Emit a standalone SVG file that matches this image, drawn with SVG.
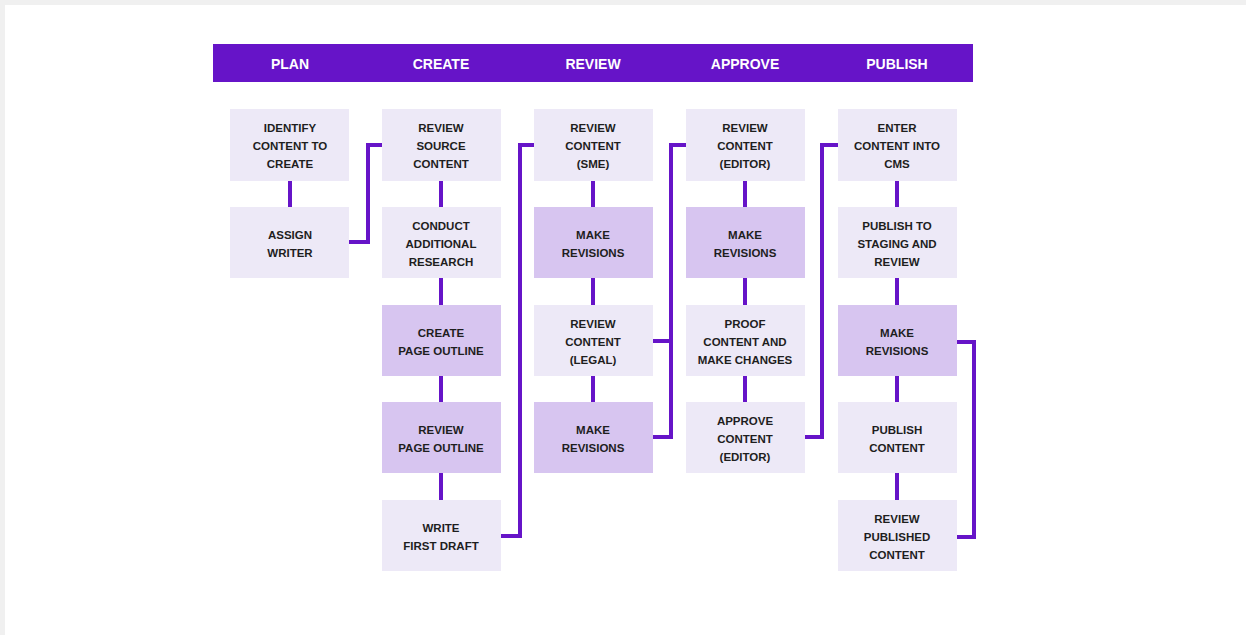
<svg xmlns="http://www.w3.org/2000/svg" width="1246" height="635" viewBox="0 0 1246 635">
<style>
.hd{font-family:"Liberation Sans",Arial,sans-serif;font-weight:bold;font-size:14px;fill:#ffffff;text-anchor:middle}
.t{font-family:"Liberation Sans",Arial,sans-serif;font-weight:bold;font-size:11.5px;fill:#1e1e1e;text-anchor:middle}
.l{fill:#ede9f7}
.d{fill:#d7c5f0}
.c{fill:none;stroke:#6614c8;stroke-width:4;stroke-linejoin:miter}
</style>
<rect x="0" y="0" width="1246" height="635" fill="#f0f0f0"/>
<rect x="5" y="5" width="1241" height="630" fill="#ffffff"/>
<g id="header">
<rect x="213" y="44" width="760" height="38" fill="#6614c8"/>
<text class="hd" x="290" y="69">PLAN</text>
<text class="hd" x="441" y="69">CREATE</text>
<text class="hd" x="593" y="69">REVIEW</text>
<text class="hd" x="745" y="69">APPROVE</text>
<text class="hd" x="897" y="69">PUBLISH</text>
</g>
<g id="connectors">
<path class="c" d="M290 181V207"/>
<path class="c" d="M441 181V207M441 278V305M441 376V402M441 473V500"/>
<path class="c" d="M593 181V207M593 278V305M593 376V402"/>
<path class="c" d="M745 181V207M745 278V305M745 376V402"/>
<path class="c" d="M897 181V207M897 278V305M897 376V402M897 473V500"/>
<path class="c" d="M349 242H368V145H382"/>
<path class="c" d="M501 536H520V145H534"/>
<path class="c" d="M653 341H671M653 437H671V145H686"/>
<path class="c" d="M805 437H822V145H838"/>
<path class="c" d="M957 342H974V537H957"/>
</g>
<g id="n-identify"><rect class="l" x="230" y="109" width="119" height="72"/><text class="t" x="290" y="132">IDENTIFY</text><text class="t" x="290" y="150">CONTENT TO</text><text class="t" x="290" y="168">CREATE</text></g>
<g id="n-assign"><rect class="l" x="230" y="207" width="119" height="71"/><text class="t" x="290" y="239">ASSIGN</text><text class="t" x="290" y="257">WRITER</text></g>
<g id="n-source"><rect class="l" x="382" y="109" width="119" height="72"/><text class="t" x="441" y="132">REVIEW</text><text class="t" x="441" y="150">SOURCE</text><text class="t" x="441" y="168">CONTENT</text></g>
<g id="n-research"><rect class="l" x="382" y="207" width="119" height="71"/><text class="t" x="441" y="230">CONDUCT</text><text class="t" x="441" y="248">ADDITIONAL</text><text class="t" x="441" y="266">RESEARCH</text></g>
<g id="n-outline"><rect class="d" x="382" y="305" width="119" height="71"/><text class="t" x="441" y="337">CREATE</text><text class="t" x="441" y="355">PAGE OUTLINE</text></g>
<g id="n-revoutline"><rect class="d" x="382" y="402" width="119" height="71"/><text class="t" x="441" y="434">REVIEW</text><text class="t" x="441" y="452">PAGE OUTLINE</text></g>
<g id="n-draft"><rect class="l" x="382" y="500" width="119" height="71"/><text class="t" x="441" y="532">WRITE</text><text class="t" x="441" y="550">FIRST DRAFT</text></g>
<g id="n-sme"><rect class="l" x="534" y="109" width="119" height="72"/><text class="t" x="593" y="132">REVIEW</text><text class="t" x="593" y="150">CONTENT</text><text class="t" x="593" y="168">(SME)</text></g>
<g id="n-rev1"><rect class="d" x="534" y="207" width="119" height="71"/><text class="t" x="593" y="239">MAKE</text><text class="t" x="593" y="257">REVISIONS</text></g>
<g id="n-legal"><rect class="l" x="534" y="305" width="119" height="71"/><text class="t" x="593" y="328">REVIEW</text><text class="t" x="593" y="346">CONTENT</text><text class="t" x="593" y="364">(LEGAL)</text></g>
<g id="n-rev2"><rect class="d" x="534" y="402" width="119" height="71"/><text class="t" x="593" y="434">MAKE</text><text class="t" x="593" y="452">REVISIONS</text></g>
<g id="n-editor"><rect class="l" x="686" y="109" width="119" height="72"/><text class="t" x="745" y="132">REVIEW</text><text class="t" x="745" y="150">CONTENT</text><text class="t" x="745" y="168">(EDITOR)</text></g>
<g id="n-rev3"><rect class="d" x="686" y="207" width="119" height="71"/><text class="t" x="745" y="239">MAKE</text><text class="t" x="745" y="257">REVISIONS</text></g>
<g id="n-proof"><rect class="l" x="686" y="305" width="119" height="71"/><text class="t" x="745" y="328">PROOF</text><text class="t" x="745" y="346">CONTENT AND</text><text class="t" x="745" y="364">MAKE CHANGES</text></g>
<g id="n-approve"><rect class="l" x="686" y="402" width="119" height="71"/><text class="t" x="745" y="425">APPROVE</text><text class="t" x="745" y="443">CONTENT</text><text class="t" x="745" y="461">(EDITOR)</text></g>
<g id="n-cms"><rect class="l" x="838" y="109" width="119" height="72"/><text class="t" x="897" y="132">ENTER</text><text class="t" x="897" y="150">CONTENT INTO</text><text class="t" x="897" y="168">CMS</text></g>
<g id="n-staging"><rect class="l" x="838" y="207" width="119" height="71"/><text class="t" x="897" y="230">PUBLISH TO</text><text class="t" x="897" y="248">STAGING AND</text><text class="t" x="897" y="266">REVIEW</text></g>
<g id="n-rev4"><rect class="d" x="838" y="305" width="119" height="71"/><text class="t" x="897" y="337">MAKE</text><text class="t" x="897" y="355">REVISIONS</text></g>
<g id="n-publish"><rect class="l" x="838" y="402" width="119" height="71"/><text class="t" x="897" y="434">PUBLISH</text><text class="t" x="897" y="452">CONTENT</text></g>
<g id="n-published"><rect class="l" x="838" y="500" width="119" height="71"/><text class="t" x="897" y="523">REVIEW</text><text class="t" x="897" y="541">PUBLISHED</text><text class="t" x="897" y="559">CONTENT</text></g>
</svg>
